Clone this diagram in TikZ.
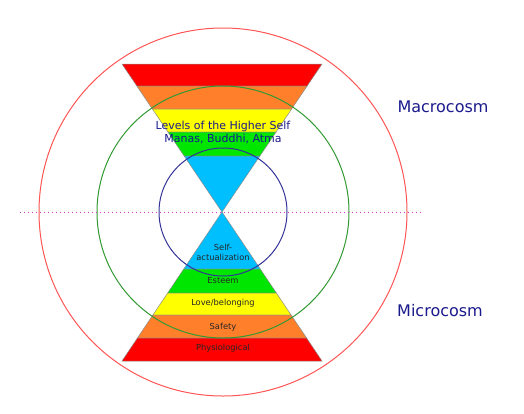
\documentclass[tikz,border=0pt]{standalone}
\usepackage{fontspec}
\setmainfont{DejaVu Sans}
\usepackage{xcolor}
\usepackage{tikz}
\usetikzlibrary{positioning,calc}
\definecolor{hred}{RGB}{255,0,0}
\definecolor{horange}{RGB}{255,127,42}
\definecolor{hyellow}{RGB}{255,255,0}
\definecolor{hgreen}{RGB}{0,230,0}
\definecolor{hblue}{RGB}{0,191,255}
\definecolor{navytxt}{RGB}{26,26,140}
\definecolor{ringred}{RGB}{255,85,85}
\definecolor{ringgreen}{RGB}{51,153,51}
\definecolor{ringblue}{RGB}{51,51,153}
\definecolor{axispurple}{RGB}{204,51,204}
\tikzset{
  band/.style={draw=black!45, line width=0.5pt},
  ring/.style={line width=1pt},
  cosmos/.style={text=navytxt, font=\fontsize{16}{18}\selectfont, inner sep=0pt},
  higher/.style={text=navytxt, font=\fontsize{11}{13}\selectfont, align=center, inner sep=0pt},
  need/.style={text=black!85, font=\fontsize{8.3}{10}\selectfont, align=center, inner sep=0pt},
}
\begin{document}
\begin{tikzpicture}[x=1pt, y=-1pt]
  \useasboundingbox (0,0) rectangle (524,413);
  % upper (inverted) pyramid
  \foreach \ya/\yb/\col in {64/86/hred, 86/109/horange, 109/132/hyellow, 132/156/hgreen, 156/212/hblue}
    \filldraw[band, fill=\col] ({222-100*(212-\ya)/148},\ya) -- ({222+100*(212-\ya)/148},\ya)
      -- ({222+100*(212-\yb)/148},\yb) -- ({222-100*(212-\yb)/148},\yb) -- cycle;
  % lower pyramid
  \foreach \ya/\yb/\col in {212/269/hblue, 269/293/hgreen, 293/315/hyellow, 315/338/horange, 338/361/hred}
    \filldraw[band, fill=\col] ({222-100*(\ya-212)/149},\ya) -- ({222+100*(\ya-212)/149},\ya)
      -- ({222+100*(\yb-212)/149},\yb) -- ({222-100*(\yb-212)/149},\yb) -- cycle;
  % rings
  \coordinate (ctr) at (223,212);
  \draw[ring, ringred] (ctr) circle (184);
  \draw[ring, ringgreen] (ctr) circle (126);
  \draw[ring, ringblue] (ctr) circle (64);
  \coordinate (axisL) at (20,212.5);
  \coordinate (axisR) at (421,212.5);
  \draw[axispurple, line width=1pt, dash pattern=on 1.2pt off 2.8pt] (axisL) -- (axisR);
  % labels
  \node[higher] (levels) at (223,132) {Levels of the Higher Self\\Manas, Buddhi, Atma};
  \node[need] (selfact) at (223,252) {Self-\\actualization};
  \node[need] (esteem) at (223,281) {Esteem};
  \node[need] (love) at (223,303) {Love/belonging};
  \node[need] (safety) at (223,327) {Safety};
  \node[need] (physio) at (223,348) {Physiological};
  \node[cosmos] (macro) at (443,107) {Macrocosm};
  \node[cosmos] (micro) at (440,311) {Microcosm};
\end{tikzpicture}
\end{document}
